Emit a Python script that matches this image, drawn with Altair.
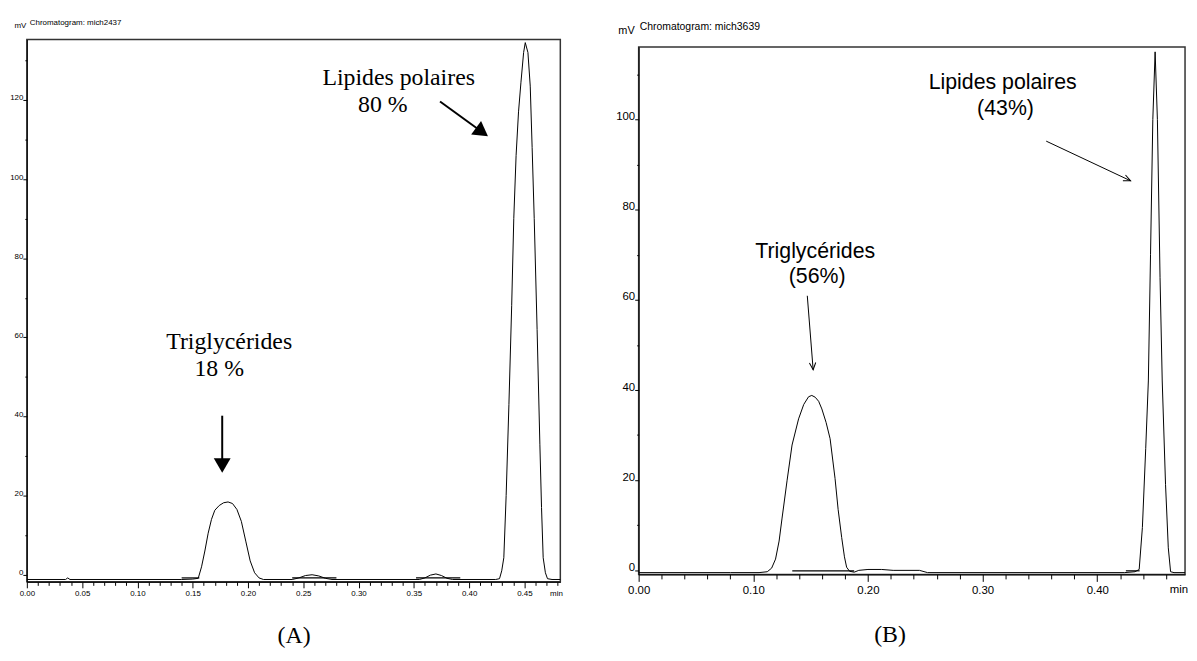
import altair as alt
import pandas as pd

NARROW = "Liberation Sans Narrow, Liberation Sans, Arial, sans-serif"
SERIF = "Liberation Serif, Times New Roman, serif"
SANS = "Liberation Sans, Arial, sans-serif"

# ---------------- Panel A ----------------
A_header = "Chromatogram: mich2437"
A_caption = "(A)"
A_time = [0.000, 0.035, 0.037, 0.039, 0.140, 0.150, 0.155, 0.158, 0.161, 0.164, 0.167, 0.170,
          0.174, 0.178, 0.182, 0.186, 0.190, 0.194, 0.198, 0.202, 0.206, 0.210, 0.214,
          0.240, 0.246, 0.252, 0.258, 0.264, 0.270, 0.276,
          0.355, 0.360, 0.365, 0.370, 0.375, 0.380, 0.385,
          0.424, 0.4275, 0.4295, 0.4314, 0.4335, 0.436, 0.4385, 0.4404, 0.4425, 0.4447, 0.4469,
          0.4493, 0.4508, 0.4532, 0.4553, 0.457, 0.4589, 0.4615, 0.464, 0.4655, 0.467, 0.469,
          0.4709, 0.475, 0.4825]
A_mv = [-1.2, -1.2, -0.8, -1.2, -1.2, -1.1, -0.9, 2.0, 6.0, 10.5, 14.0, 16.3,
        17.5, 18.2, 18.4, 18.0, 16.5, 13.5, 8.5, 3.5, 0.5, -0.8, -1.2,
        -1.2, -0.8, -0.2, 0.0, -0.3, -0.9, -1.2,
        -1.2, -0.8, -0.1, 0.2, -0.2, -0.9, -1.2,
        -1.2, -1.0, 1.0, 4.3, 20.0, 43.0, 68.0, 90.0, 106.0, 117.0, 124.5,
        132.0, 134.5, 132.0, 123.5, 108.0, 90.0, 62.0, 33.0, 17.0, 4.3, 0.5,
        -1.0, -1.2, -1.2]
A_base_seg = [1, 1, 2, 2, 3, 3]
A_base_time = [0.140, 0.156, 0.240, 0.280, 0.352, 0.392]
A_base_mv = [-0.8, -0.8, -0.8, -0.8, -0.8, -0.8]
A_x_major = [0.00, 0.05, 0.10, 0.15, 0.20, 0.25, 0.30, 0.35, 0.40, 0.45]
A_x_minor = [0.01, 0.02, 0.03, 0.04, 0.06, 0.07, 0.08, 0.09, 0.11, 0.12, 0.13, 0.14,
             0.16, 0.17, 0.18, 0.19, 0.21, 0.22, 0.23, 0.24, 0.26, 0.27, 0.28, 0.29,
             0.31, 0.32, 0.33, 0.34, 0.36, 0.37, 0.38, 0.39, 0.41, 0.42, 0.43, 0.44,
             0.46, 0.47, 0.48]
A_y_major = [0, 20, 40, 60, 80, 100, 120]
A_y_minor = [10, 30, 50, 70, 90, 110, 130]
A_x_domain = [0.0, 0.4825]
A_y_domain = [-1.8, 135.3]
A_labels = ["Lipides polaires", "80 %", "Triglycérides", "18 %"]
A_label_time = [0.3363, 0.322, 0.183, 0.174]
A_label_mv = [123.9, 116.9, 57.0, 50.2]
A_arrow_time = [0.1767, 0.3737]
A_arrow_mv = [40.2, 119.6]
A_head_time = [0.1767, 0.4117]
A_head_mv = [27.6, 111.9]
A_head_angle = [180, 125.9]
A_unit = "min"
A_unit_time = 0.479

# ---------------- Panel B ----------------
B_header = "Chromatogram: mich3639"
B_caption = "(B)"
B_time = [0.000, 0.080, 0.105, 0.1122, 0.116, 0.1194, 0.1225, 0.1251, 0.1295, 0.1338, 0.1395,
          0.1440, 0.1482, 0.1510, 0.1540, 0.1570, 0.1598, 0.1635, 0.1670, 0.1713, 0.1740,
          0.1771, 0.1795, 0.1814, 0.1840, 0.1880,
          0.192, 0.200, 0.212, 0.222, 0.245, 0.252,
          0.424, 0.433, 0.4366, 0.4394, 0.4423, 0.4446, 0.4465, 0.4485, 0.4505, 0.4525,
          0.4548, 0.4567, 0.4596, 0.4620, 0.4640, 0.4670, 0.4766]
B_mv = [-0.5, -0.5, -0.5, -0.3, 0.5, 2.5, 6.5, 11.6, 20.0, 27.8, 33.6,
        36.8, 38.5, 38.8, 38.4, 37.5, 35.8, 32.8, 29.2, 20.4, 13.5,
        7.3, 3.0, 0.7, -0.2, -0.4,
        0.0, 0.2, 0.2, 0.0, 0.0, -0.5,
        -0.5, -0.3, 0.2, 9.5, 27.0, 42.0, 70.0, 100.0, 115.0, 100.0,
        65.0, 42.0, 19.0, 5.0, -0.3, -0.5, -0.5]
B_base_seg = [1, 1, 2, 2]
B_base_time = [0.134, 0.188, 0.425, 0.437]
B_base_mv = [-0.1, -0.1, -0.1, -0.1]
B_x_major = [0.00, 0.10, 0.20, 0.30, 0.40]
B_x_minor = [0.02, 0.04, 0.06, 0.08, 0.12, 0.14, 0.16, 0.18, 0.22, 0.24, 0.26, 0.28,
             0.32, 0.34, 0.36, 0.38, 0.42, 0.44, 0.46]
B_y_major = [0, 20, 40, 60, 80, 100]
B_y_minor = [10, 30, 50, 70, 90, 110]
B_x_domain = [0.0, 0.4766]
B_y_domain = [-0.9, 116.1]
B_labels = ["Lipides polaires", "(43%)", "Triglycérides", "(56%)"]
B_label_time = [0.3175, 0.320, 0.154, 0.1557]
B_label_mv = [106.7, 101.0, 69.3, 63.7]
B_arrow_time = [0.1471, 0.3555]
B_arrow_mv = [60.9, 95.2]
B_head_time = [0.1522, 0.4291]
B_head_mv = [44.5, 86.4]
B_head_angle = [355.4, 294.4]
B_unit = "min"
B_unit_time = 0.4766


def panel(time, mv, base_seg, base_time, base_mv, x_major, x_minor, y_major, y_minor,
          x_dom, y_dom, labels, lab_t, lab_mv, ar_t, ar_mv, hd_t, hd_mv, hd_ang,
          header, caption, unit, unit_t, W, H, st):
    xs = alt.Scale(domain=x_dom, nice=False, zero=False)
    ys = alt.Scale(domain=y_dom, nice=False, zero=False)

    x_axis = alt.Axis(values=x_major, format=".2f", orient="bottom", grid=False,
                      tickSize=st["xtick"], tickColor="black", domainColor="black",
                      labelFont=NARROW, labelFontSize=st["xl"], labelColor="black",
                      labelPadding=st["xpad"], labelFlush=False, labelOverlap=False,
                      title=caption, titleFont=SERIF, titleFontSize=st["cap"],
                      titleFontWeight="normal", titleColor="black",
                      titleX=st["capx"], titleY=st["capy"], titleBaseline="alphabetic")
    y_axis = alt.Axis(values=y_major, orient="left", grid=False, format="d",
                      tickSize=4, tickColor="black", domainColor="black",
                      labelFont=NARROW, labelFontSize=st["yl"], labelColor="black",
                      labelPadding=0, labelBaseline="alphabetic", labelOverlap=False,
                      labelFlush=False,
                      title="mV", titleAngle=0, titleX=st["mvx"], titleY=st["mvy"],
                      titleAlign="left", titleBaseline="middle", titleFont=NARROW,
                      titleFontSize=st["mvs"], titleFontWeight="normal", titleColor="black")
    x_minor_axis = alt.Axis(values=x_minor, orient="bottom", grid=False, labels=False,
                            domain=False, tickSize=st["xtick"] - 2.5, tickColor="black",
                            title=None)
    y_minor_axis = alt.Axis(values=y_minor, orient="left", grid=False, labels=False,
                            domain=False, tickSize=2, tickColor="black", title=None)

    trace = pd.DataFrame({"t": time, "mv": mv})
    line = alt.Chart(trace).mark_line(color="black", strokeWidth=st["lw"]).encode(
        x=alt.X("t:Q", scale=xs, axis=x_axis),
        y=alt.Y("mv:Q", scale=ys, axis=y_axis),
    )

    base_df = pd.DataFrame({"seg": base_seg, "t": base_time, "mv": base_mv})
    base = alt.Chart(base_df).mark_line(color="black", strokeWidth=1.2).encode(
        x=alt.X("t:Q", scale=xs, axis=x_minor_axis),
        y=alt.Y("mv:Q", scale=ys, axis=y_minor_axis),
        detail="seg:N",
    )

    lab_df = pd.DataFrame({"label": labels, "t": lab_t, "mv": lab_mv})
    texts = alt.Chart(lab_df).mark_text(
        font=st["afont"], fontSize=st["asize"], align="center", baseline="alphabetic",
        color="black").encode(
        x=alt.X("t:Q", scale=xs, axis=None),
        y=alt.Y("mv:Q", scale=ys, axis=None),
        text="label:N",
    )

    arr_df = pd.DataFrame({"t": ar_t, "mv": ar_mv, "t2": hd_t, "mv2": hd_mv, "ang": hd_ang})
    shafts = alt.Chart(arr_df).mark_rule(color="black", strokeWidth=st["aw"]).encode(
        x=alt.X("t:Q", scale=xs, axis=None),
        y=alt.Y("mv:Q", scale=ys, axis=None),
        x2="t2:Q",
        y2="mv2:Q",
    )
    heads = alt.Chart(arr_df).mark_point(
        shape=st["shape"], filled=st["filled"], size=st["hsize"], color="black",
        opacity=1, strokeWidth=1).encode(
        x=alt.X("t2:Q", scale=xs, axis=None),
        y=alt.Y("mv2:Q", scale=ys, axis=None),
        angle=alt.Angle("ang:Q", scale=None),
    )

    hdr = alt.Chart(pd.DataFrame({"label": [header]})).mark_text(
        font=NARROW, fontSize=st["hs"], align="left", baseline="middle", color="black").encode(
        text="label:N", x=alt.value(st["hx"]), y=alt.value(st["hy"]))

    unit_df = pd.DataFrame({"label": [unit], "t": [unit_t]})
    unit_txt = alt.Chart(unit_df).mark_text(
        font=NARROW, fontSize=st["xl"], align=st["ualign"], baseline="top", color="black",
        dx=st["udx"]).encode(
        x=alt.X("t:Q", scale=xs, axis=None),
        y=alt.value(H + st["xtick"] + st["xpad"]),
        text="label:N",
    )

    return alt.layer(line, base, texts, shafts, heads, hdr, unit_txt).resolve_axis(
        x="independent", y="independent").properties(width=W, height=H)


A_W, A_H = 538, 547
B_W, B_H = 551, 532

st_A = dict(lw=1, xl=8, yl=8, xtick=6, xpad=2, cap=24, capx=A_W / 2, capy=61,
            mvx=-13, mvy=-14, mvs=8, hs=8, hx=3, hy=-17, afont=SERIF, asize=24,
            aw=2, shape="triangle-up", filled=True, hsize=290, ualign="center", udx=0)
st_B = dict(lw=1, xl=11.5, yl=11.5, xtick=7, xpad=3, cap=24, capx=253, capy=68,
            mvx=-21, mvy=-16, mvs=11, hs=10.5, hx=1, hy=-20, afont=SANS, asize=21.5,
            aw=1, shape="M-0.45,-1L0,0L0.45,-1", filled=False, hsize=200,
            ualign="right", udx=3)

chart_A = panel(A_time, A_mv, A_base_seg, A_base_time, A_base_mv, A_x_major, A_x_minor,
                A_y_major, A_y_minor, A_x_domain, A_y_domain, A_labels, A_label_time,
                A_label_mv, A_arrow_time, A_arrow_mv, A_head_time, A_head_mv, A_head_angle,
                A_header, A_caption, A_unit, A_unit_time, A_W, A_H, st_A)
chart_B = panel(B_time, B_mv, B_base_seg, B_base_time, B_base_mv, B_x_major, B_x_minor,
                B_y_major, B_y_minor, B_x_domain, B_y_domain, B_labels, B_label_time,
                B_label_mv, B_arrow_time, B_arrow_mv, B_head_time, B_head_mv, B_head_angle,
                B_header, B_caption, B_unit, B_unit_time, B_W, B_H, st_B)

chart = alt.hconcat(chart_A, chart_B, spacing=79, bounds="flush", center=True).properties(
    padding={"left": 0, "top": 7, "right": 0, "bottom": 0},
    background="white",
).configure_view(stroke="#333333", strokeWidth=1.5).configure_axis(grid=False)

chart.save("out.html", embed_options={"renderer": "svg", "actions": False})
